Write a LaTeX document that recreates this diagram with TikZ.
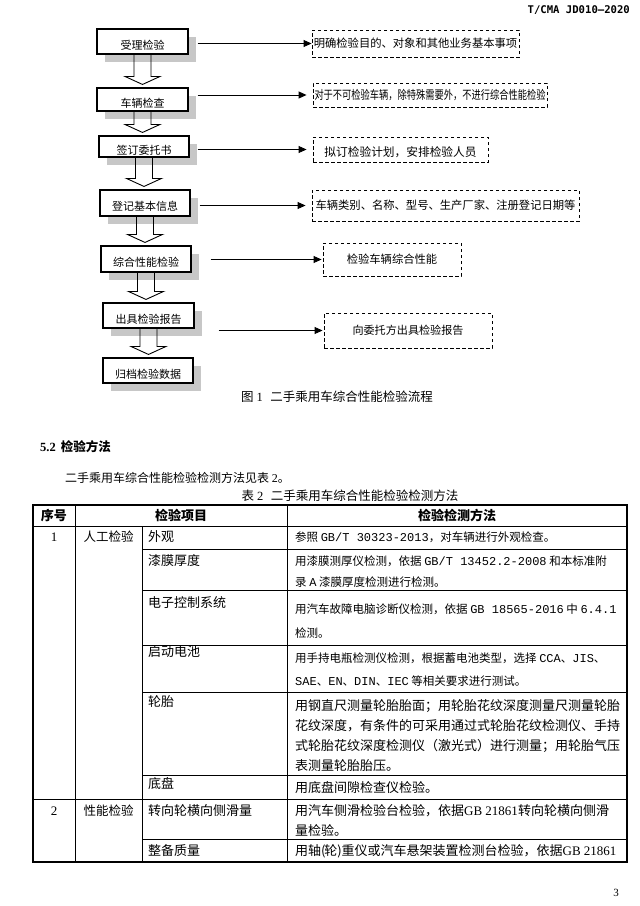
\documentclass[tikz,border=0pt]{standalone}
\usepackage{fontspec}
\usepackage{graphicx}
\setmainfont{Liberation Serif}
\newfontfamily\cjk{Noto Sans CJK SC}
\newfontfamily\mono{Liberation Mono}
\newfontfamily\hdr{DejaVu Sans Mono}
\usetikzlibrary{shadows,arrows.meta,calc}
\definecolor{shadowgrey}{gray}{0.78}
\newcommand\lat[1]{{\mono\fontsize{12}{12}\selectfont #1}}
\newcommand\hollowdown[2]{%
  \draw[hollow] let \p1=(#1.south), \p2=(#2.north) in
   (\x1-8.5pt,\y1) -- (\x1-8.5pt,\y2+11pt) -- (\x1-17.5pt,\y2+11pt) -- (\x1,\y2+3pt)
   -- (\x1+17.5pt,\y2+11pt) -- (\x1+8.5pt,\y2+11pt) -- (\x1+8.5pt,\y1);}
\begin{document}
\begin{tikzpicture}[x=1pt,y=-1pt,
  flowbox/.style={draw,line width=1.1pt,fill=white,minimum width=91pt,minimum height=25pt,
    inner sep=0pt,font=\cjk\fontsize{11}{11}\selectfont,text height=15pt,text depth=0pt,
    drop shadow={shadow xshift=8pt,shadow yshift=-8pt,fill=shadowgrey,opacity=1}},
  notebox/.style={draw,dash pattern=on 3.5pt off 2.5pt,line width=0.9pt,inner sep=0pt,
    font=\cjk\fontsize{11.3}{11.3}\selectfont},
  hollow/.style={draw,line width=0.9pt},
  arr/.style={line width=0.9pt,-{Triangle[length=8pt,width=7pt]}},
  plain/.style={inner sep=0pt,font=\cjk\fontsize{12.5}{12.5}\selectfont},
  tl/.style={inner sep=0pt,anchor=west,font=\cjk\fontsize{13}{13}\selectfont},
  tf/.style={inner sep=0pt,anchor=west,font=\cjk\fontsize{11.5}{11.5}\selectfont},
  thead/.style={inner sep=0pt,font=\cjk\bfseries\fontsize{13}{13}\selectfont},
  outer/.style={line width=1.3pt},
  inner/.style={line width=0.8pt}
]
\useasboundingbox[fill=white] (0,0) rectangle (640,906);

% header
\node[inner sep=0pt,anchor=east,font=\hdr\bfseries\fontsize{10.6}{10.6}\selectfont] (hdr) at (630,10) {T/CMA JD010—2020};

% flow boxes
\node[flowbox,minimum height=25pt] (b1) at (142.5,41.5) {受理检验};
\node[flowbox,minimum height=23pt] (b2) at (142.5,99.5) {车辆检查};
\node[flowbox,minimum width=90pt,minimum height=21pt] (b3) at (144,146.5) {签订委托书};
\node[flowbox,minimum width=90pt,minimum height=26pt] (b4) at (145,203) {登记基本信息};
\node[flowbox,minimum width=90pt,minimum height=26pt] (b5) at (146,259) {综合性能检验};
\node[flowbox,minimum height=25pt] (b6) at (148.5,315.5) {出具检验报告};
\node[flowbox,minimum width=90pt,minimum height=25pt] (b7) at (148,370.5) {归档检验数据};

\hollowdown{b1}{b2}
\hollowdown{b2}{b3}
\hollowdown{b3}{b4}
\hollowdown{b4}{b5}
\hollowdown{b5}{b6}
\hollowdown{b6}{b7}

% note boxes
\node[notebox,minimum width=207pt,minimum height=27pt] (d1) at (415.5,43.5) {明确检验目的、对象和其他业务基本事项};
\node[notebox,minimum width=234pt,minimum height=24pt] (d2) at (430,95) {\scalebox{0.77}[1]{\fontsize{12}{12}\selectfont 对于不可检验车辆，除特殊需要外，不进行综合性能检验}};
\node[notebox,minimum width=175pt,minimum height=25pt,text height=13pt,text depth=0pt] (d3) at (400.5,149.5) {\fontsize{11.7}{11.7}\selectfont 拟订检验计划，安排检验人员};
\node[notebox,minimum width=267pt,minimum height=31pt] (d4) at (445.5,205.5) {车辆类别、名称、型号、生产厂家、注册登记日期等};
\node[notebox,minimum width=138pt,minimum height=33pt] (d5) at (392,259.5) {检验车辆综合性能};
\node[notebox,minimum width=168pt,minimum height=35pt] (d6) at (408,330.5) {\fontsize{11.1}{11.1}\selectfont 向委托方出具检验报告};

\draw[arr] ($(b1.east |- d1.west)+(9,0)$) -- (d1.west);
\draw[arr] ($(b2.east |- d2.west)+(9,0)$) -- ($(d2.west)+(-6,0)$);
\draw[arr] ($(b3.east |- d3.west)+(8,0)$) -- ($(d3.west)+(-6,0)$);
\draw[arr] ($(b4.east |- d4.west)+(9,0)$) -- ($(d4.west)+(-6,0)$);
\draw[arr] ($(b5.east |- d5.west)+(19,0)$) -- ($(d5.west)+(-1,0)$);
\draw[arr] ($(b6.east |- d6.west)+(24,0)$) -- ($(d6.west)+(-1,0)$);

% caption
\node[plain] (cap1) at (337,397) {图 {\rmfamily 1}\hspace{0.6em}二手乘用车综合性能检验流程};

% section text
\node[plain,anchor=west,font=\cjk\bfseries\fontsize{12.5}{12.5}\selectfont] (sec) at (40,447) {{\rmfamily\bfseries 5.2}\hspace{0.4em}检验方法};
\node[plain,anchor=west,font=\cjk\fontsize{12}{12}\selectfont] (para) at (65,478) {二手乘用车综合性能检验检测方法见表 {\rmfamily 2}。};
\node[plain] (cap2) at (350,496) {表 {\rmfamily 2}\hspace{0.6em}二手乘用车综合性能检验检测方法};

% table grid
\draw[outer] (33,505) rectangle (627,862);
\draw[inner] (75,505) -- (75,862);
\draw[inner] (142,526) -- (142,862);
\draw[inner] (287,505) -- (287,862);
\draw[inner] (33,526) -- (627,526);
\foreach \yy in {549,590,645,692,775,839} \draw[inner] (142,\yy) -- (627,\yy);
\draw[inner] (33,799) -- (627,799);

% table head
\node[thead] (h1) at (54,515.5) {序号};
\node[thead] (h2) at (181,515.5) {检验项目};
\node[thead] (h3) at (457,515.5) {检验检测方法};

% row 1
\node[inner sep=0pt,font=\rmfamily\fontsize{13}{13}\selectfont] (n1) at (54,537) {1};
\node[inner sep=0pt,font=\cjk\fontsize{12.5}{12.5}\selectfont] (g1) at (108.5,537) {人工检验};
\node[tl] (i1) at (148,537) {外观};
\node[tf] (m1) at (295,537) {参照 \lat{GB/T 30323-2013}，对车辆进行外观检查。};
\node[tl] (i2) at (148,561) {漆膜厚度};
\node[tf] (m2a) at (295,561) {用漆膜测厚仪检测，依据 \lat{GB/T 13452.2-2008} 和本标准附};
\node[tf] (m2b) at (295,582) {录 \lat{A} 漆膜厚度检测进行检测。};
\node[tl] (i3) at (148,603) {电子控制系统};
\node[tf] (m3a) at (295,609) {用汽车故障电脑诊断仪检测，依据 \lat{GB 18565-2016} 中 \lat{6.4.1}};
\node[tf] (m3b) at (295,633) {检测。};
\node[tl] (i4) at (148,652) {启动电池};
\node[tf] (m4a) at (295,658) {用手持电瓶检测仪检测，根据蓄电池类型，选择 \lat{CCA}、\lat{JIS}、};
\node[tf] (m4b) at (295,681) {\lat{SAE}、\lat{EN}、\lat{DIN}、\lat{IEC} 等相关要求进行测试。};
\node[tl] (i5) at (148,702) {轮胎};
\node[tl] (m5a) at (295,706) {用钢直尺测量轮胎胎面；用轮胎花纹深度测量尺测量轮胎};
\node[tl] (m5b) at (295,726) {花纹深度，有条件的可采用通过式轮胎花纹检测仪、手持};
\node[tl] (m5c) at (295,746) {式轮胎花纹深度检测仪（激光式）进行测量；用轮胎气压};
\node[tl] (m5d) at (295,766) {表测量轮胎胎压。};
\node[tl] (i6) at (148,784) {底盘};
\node[tl] (m6) at (295,788) {用底盘间隙检查仪检验。};

% row 2
\node[inner sep=0pt,font=\rmfamily\fontsize{13}{13}\selectfont] (n2) at (54,811) {2};
\node[inner sep=0pt,font=\cjk\fontsize{12.5}{12.5}\selectfont] (g2) at (108.5,811) {性能检验};
\node[tl] (i7) at (148,811) {转向轮横向侧滑量};
\node[tl] (m7a) at (295,811) {用汽车侧滑检验台检验，依据{\rmfamily GB 21861}转向轮横向侧滑};
\node[tl] (m7b) at (295,830) {量检验。};
\node[tl] (i8) at (148,851) {整备质量};
\node[tl] (m8) at (295,851) {用轴({\hspace{-0.1em}}轮)重仪或汽车悬架装置检测台检验，依据{\rmfamily GB 21861}};

% page number
\node[inner sep=0pt,font=\rmfamily\fontsize{11}{11}\selectfont] (pg) at (616,893) {3};
\end{tikzpicture}
\end{document}
